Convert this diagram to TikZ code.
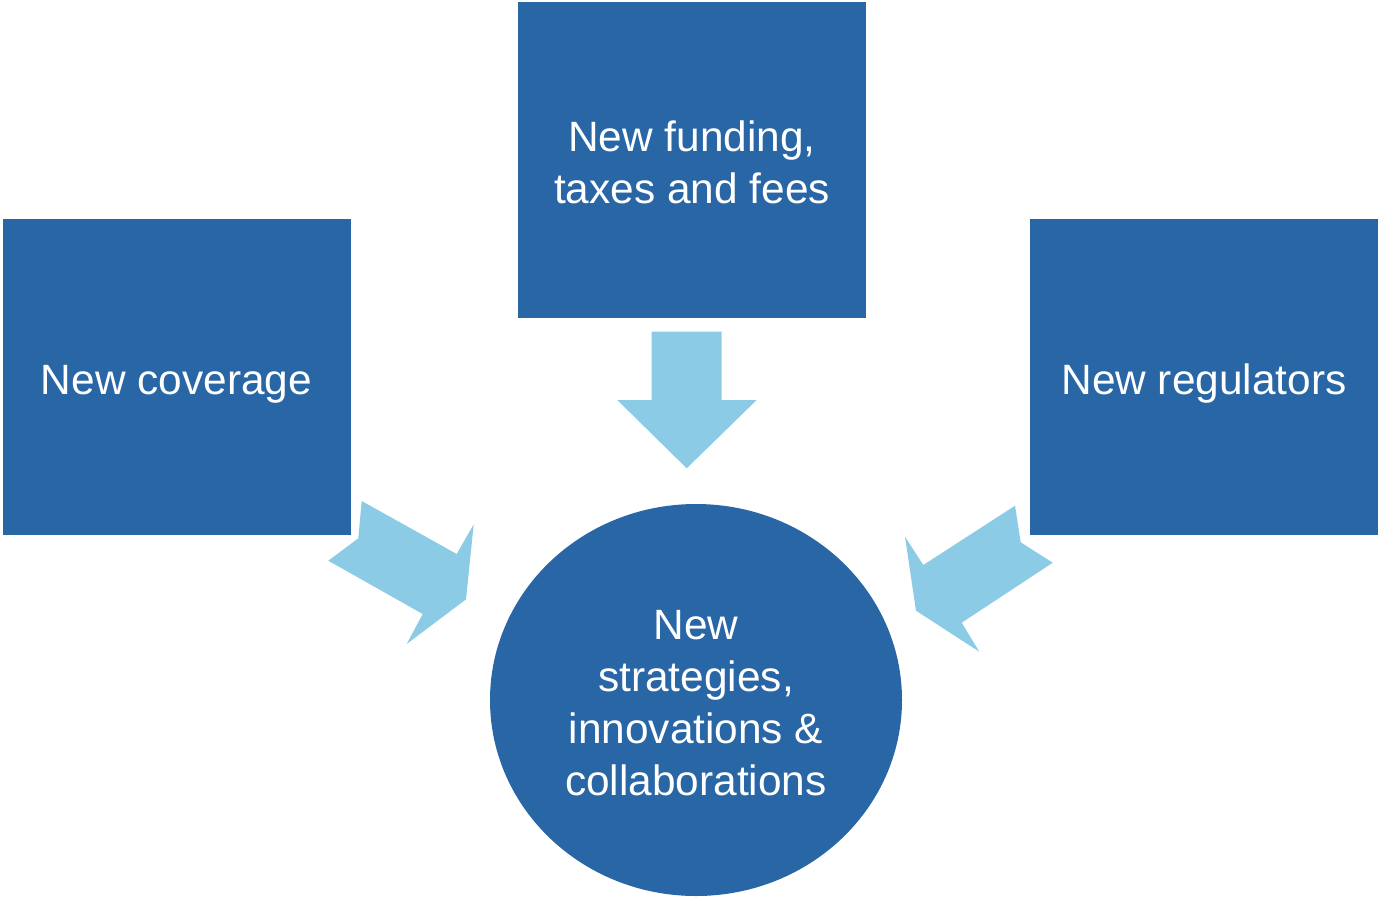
\documentclass[tikz,border=0pt]{standalone}
\usepackage{fontspec}
\setmainfont{Liberation Sans}
\definecolor{darkblue}{HTML}{2866A6}
\definecolor{lightblue}{HTML}{8CCBE5}
\usetikzlibrary{shapes.geometric}
\tikzset{
  box/.style={fill=darkblue, draw=none, minimum width=348pt, minimum height=316pt, inner sep=0pt},
  hub/.style={fill=darkblue, draw=none, ellipse, minimum width=412pt, minimum height=392pt, inner sep=0pt},
  boxtext/.style={text=white, align=center, inner sep=0pt, font=\fontsize{42.4}{52}\selectfont},
  blockarrow/.style={fill=lightblue, draw=none}
}
\begin{document}
\begin{tikzpicture}[x=1pt, y=-1pt]
\useasboundingbox (0,0) rectangle (1378,897);
\node[box] (left) at (176.5,377) {};
\node[box] (top) at (692,159.5) {};
\node[box] (right) at (1204,377) {};
\node[hub] (hub) at (696,700) {};
\node[boxtext] (lefttext) at ([yshift=-7pt]left.center) {New coverage};
\node[boxtext] (toptext) at ([yshift=-2.5pt]top.center) {New funding,\\taxes and fees};
\node[boxtext] (righttext) at ([yshift=-7pt]right.center) {New regulators};
\node[boxtext] (hubtext) at ([yshift=-3pt]hub.center) {New\\strategies,\\innovations \&\\collaborations};
% top arrow
\fill[blockarrow] (651.7,331.7) -- (721.7,331.7) -- (721.7,400) -- (756.7,400) -- (686.7,468.3) -- (617.3,400) -- (651.7,400) -- cycle;
% left arrow
\fill[blockarrow] (361.7,501) -- (456.7,554) -- (473.7,524.3) -- (466,599.3) -- (406.7,644) -- (422.7,614) -- (328.3,560.7) -- (358.3,538.3) -- cycle;
% right arrow
\fill[blockarrow] (1015,505.7) -- (1020.7,542.3) -- (1052.7,562.7) -- (961.7,622.7) -- (979.3,651.7) -- (916,610.7) -- (905,536.7) -- (923.3,565) -- cycle;
\end{tikzpicture}
\end{document}
